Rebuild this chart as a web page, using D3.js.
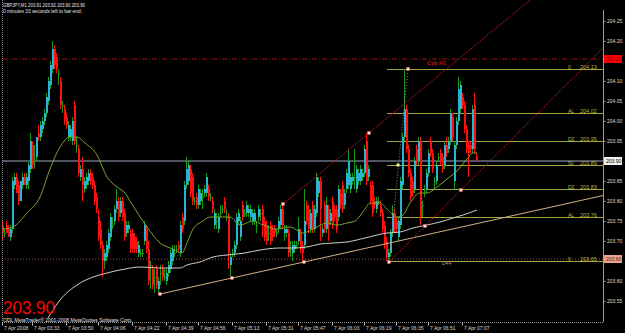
<!DOCTYPE html>
<html>
<head>
<meta charset="utf-8">
<script src="https://cdn.jsdelivr.net/npm/d3@7.9.0/dist/d3.min.js"></script>
<style>
  html, body { margin:0; padding:0; background:#000; overflow:hidden; }
  svg { display:block; }
  text { font-family:"Liberation Sans", Arial, sans-serif; }
</style>
</head>
<body>
<script>
// ─── DATA ────────────────────────────────────────────────────────────────────
// GBPJPY M1 candles, [open, high, low, close], one per minute bar
const ohlc = [
  [203.74,203.75,203.70,203.72],[203.72,203.73,203.71,203.72],[203.74,203.75,203.72,203.72],[203.73,203.74,203.71,203.71],
  [203.71,203.74,203.70,203.73],[203.73,203.86,203.72,203.85],[203.84,203.87,203.83,203.86],[203.86,203.87,203.82,203.82],
  [203.84,203.85,203.79,203.80],[203.80,203.85,203.80,203.85],[203.84,203.87,203.83,203.86],[203.86,203.87,203.84,203.84],
  [203.84,203.87,203.83,203.86],[203.85,203.90,203.83,203.89],[203.88,203.97,203.87,203.95],[203.94,203.95,203.88,203.89],
  [203.90,203.94,203.88,203.90],[203.91,203.96,203.90,203.96],[203.97,203.99,203.95,203.96],[203.96,204.00,203.95,203.99],
  [203.98,204.01,203.97,204.00],[204.00,204.03,203.99,204.02],[204.02,204.07,204.01,204.06],[204.05,204.11,204.04,204.10],
  [204.09,204.15,204.08,204.14],[204.13,204.20,204.12,204.18],[204.18,204.19,204.13,204.14],[204.16,204.17,204.12,204.13],
  [204.12,204.13,204.09,204.12],[204.10,204.11,204.03,204.04],[204.04,204.05,204.02,204.04],[204.03,204.04,203.99,204.00],
  [204.01,204.02,203.98,203.99],[203.96,204.00,203.95,203.99],[203.96,203.99,203.95,203.98],[203.95,204.01,203.94,204.00],
  [204.04,204.05,203.94,203.95],[203.94,203.96,203.92,203.94],[203.93,203.94,203.86,203.87],[203.86,203.89,203.85,203.88],
  [203.88,203.91,203.80,203.84],[203.83,203.86,203.82,203.85],[203.84,203.87,203.83,203.86],[203.85,203.88,203.84,203.87],
  [203.87,203.88,203.84,203.85],[203.86,203.87,203.83,203.84],[203.84,203.85,203.79,203.80],[203.81,203.82,203.77,203.78],
  [203.76,203.78,203.70,203.71],[203.73,203.75,203.68,203.69],[203.69,203.70,203.61,203.65],[203.65,203.68,203.63,203.67],
  [203.66,203.70,203.65,203.69],[203.68,203.73,203.67,203.72],[203.71,203.77,203.70,203.76],[203.74,203.76,203.73,203.74],
  [203.75,203.79,203.74,203.78],[203.78,203.83,203.77,203.80],[203.80,203.81,203.75,203.76],[203.77,203.81,203.76,203.80],
  [203.80,203.81,203.75,203.76],[203.77,203.78,203.70,203.71],[203.72,203.75,203.71,203.74],[203.73,203.75,203.72,203.74],
  [203.72,203.73,203.67,203.68],[203.72,203.73,203.67,203.68],[203.71,203.72,203.67,203.68],[203.70,203.71,203.67,203.68],
  [203.67,203.70,203.66,203.69],[203.67,203.68,203.66,203.67],[203.67,203.68,203.66,203.67],[203.70,203.75,203.69,203.74],
  [203.73,203.74,203.67,203.68],[203.68,203.70,203.59,203.60],[203.64,203.65,203.58,203.64],[203.63,203.64,203.58,203.59],
  [203.61,203.63,203.57,203.61],[203.63,203.64,203.58,203.59],[203.58,203.61,203.57,203.60],[203.62,203.64,203.59,203.62],
  [203.63,203.64,203.60,203.61],[203.61,203.63,203.60,203.61],[203.60,203.63,203.59,203.62],[203.62,203.65,203.61,203.64],
  [203.63,203.68,203.62,203.67],[203.65,203.69,203.64,203.68],[203.67,203.69,203.66,203.67],[203.68,203.69,203.67,203.68],
  [203.69,203.70,203.67,203.68],[203.67,203.75,203.66,203.74],[203.76,203.77,203.72,203.73],[203.75,203.85,203.74,203.84],
  [203.84,203.91,203.83,203.88],[203.85,203.90,203.84,203.89],[203.88,203.89,203.81,203.82],[203.86,203.87,203.79,203.80],
  [203.80,203.81,203.79,203.80],[203.81,203.82,203.78,203.79],[203.79,203.84,203.78,203.83],[203.80,203.83,203.79,203.82],
  [203.81,203.83,203.78,203.81],[203.82,203.84,203.81,203.83],[203.82,203.87,203.81,203.86],[203.83,203.84,203.80,203.81],
  [203.81,203.82,203.80,203.81],[203.80,203.81,203.77,203.78],[203.74,203.78,203.73,203.77],[203.75,203.77,203.73,203.75],
  [203.73,203.77,203.72,203.76],[203.77,203.79,203.76,203.77],[203.78,203.79,203.77,203.78],[203.80,203.81,203.77,203.78],
  [203.76,203.78,203.75,203.76],[203.76,203.77,203.63,203.67],[203.64,203.67,203.61,203.66],[203.67,203.68,203.66,203.67],
  [203.67,203.70,203.66,203.69],[203.69,203.77,203.68,203.76],[203.75,203.78,203.74,203.77],[203.71,203.76,203.70,203.75],
  [203.79,203.80,203.75,203.76],[203.77,203.78,203.76,203.77],[203.77,203.80,203.76,203.79],[203.77,203.79,203.76,203.78],
  [203.76,203.79,203.75,203.78],[203.75,203.78,203.74,203.77],[203.75,203.78,203.74,203.77],[203.74,203.75,203.72,203.74],
  [203.76,203.79,203.75,203.78],[203.77,203.78,203.75,203.77],[203.78,203.79,203.71,203.74],[203.75,203.76,203.70,203.71],
  [203.74,203.75,203.69,203.70],[203.72,203.74,203.70,203.72],[203.74,203.75,203.69,203.70],[203.73,203.74,203.70,203.71],
  [203.73,203.74,203.71,203.72],[203.72,203.73,203.71,203.72],[203.73,203.76,203.72,203.75],[203.74,203.79,203.73,203.78],
  [203.78,203.79,203.73,203.74],[203.72,203.74,203.70,203.73],[203.72,203.74,203.71,203.73],[203.72,203.73,203.66,203.67],
  [203.68,203.70,203.66,203.68],[203.67,203.70,203.65,203.69],[203.68,203.70,203.67,203.69],[203.69,203.70,203.68,203.69],
  [203.70,203.76,203.69,203.73],[203.72,203.73,203.67,203.68],[203.69,203.70,203.65,203.67],[203.69,203.83,203.68,203.75],
  [203.79,203.80,203.74,203.75],[203.78,203.79,203.72,203.73],[203.73,203.78,203.72,203.77],[203.79,203.80,203.72,203.73],
  [203.73,203.79,203.72,203.78],[203.77,203.87,203.76,203.86],[203.82,203.86,203.81,203.85],[203.85,203.86,203.70,203.78],
  [203.72,203.74,203.71,203.73],[203.79,203.80,203.72,203.73],[203.73,203.81,203.72,203.79],[203.78,203.79,203.70,203.74],
  [203.75,203.78,203.74,203.77],[203.80,203.81,203.73,203.74],[203.78,203.79,203.75,203.76],[203.78,203.79,203.72,203.73],
  [203.76,203.84,203.75,203.83],[203.82,203.83,203.78,203.79],[203.84,203.85,203.77,203.78],[203.79,203.83,203.78,203.82],
  [203.83,203.88,203.82,203.87],[203.84,203.93,203.83,203.90],[203.83,203.87,203.82,203.86],[203.85,203.87,203.84,203.86],
  [203.86,203.93,203.83,203.86],[203.83,203.89,203.82,203.88],[203.85,203.88,203.84,203.87],[203.85,203.89,203.84,203.88],
  [203.86,203.88,203.85,203.87],[203.87,203.94,203.86,203.93],[203.95,203.97,203.84,203.85],[203.86,203.89,203.85,203.88],
  [203.84,203.85,203.79,203.80],[203.84,203.85,203.76,203.77],[203.80,203.81,203.78,203.79],[203.78,203.81,203.77,203.80],
  [203.80,203.81,203.79,203.80],[203.79,203.80,203.76,203.77],[203.77,203.78,203.72,203.73],[203.74,203.75,203.68,203.69],
  [203.70,203.71,203.65,203.66],[203.66,203.68,203.65,203.67],[203.67,203.73,203.66,203.72],[203.72,203.79,203.71,203.77],
  [203.77,203.78,203.72,203.73],[203.75,203.76,203.72,203.73],[203.71,203.76,203.70,203.75],[203.74,203.86,203.73,203.85],
  [203.84,203.97,203.83,203.96],[203.96,204.13,203.95,204.03],[204.03,204.04,203.92,203.93],[203.93,203.94,203.86,203.87],
  [203.87,203.88,203.80,203.81],[203.85,203.86,203.81,203.82],[203.83,203.91,203.82,203.90],[203.93,203.94,203.89,203.90],
  [203.90,203.96,203.89,203.95],[203.95,203.96,203.74,203.76],[203.79,203.80,203.76,203.79],[203.83,203.84,203.81,203.83],
  [203.83,203.88,203.82,203.87],[203.87,203.93,203.86,203.92],[203.95,203.96,203.91,203.92],[203.92,203.93,203.87,203.88],
  [203.85,203.86,203.83,203.85],[203.85,203.90,203.84,203.89],[203.91,203.92,203.90,203.91],[203.92,203.93,203.89,203.90],
  [203.91,203.92,203.87,203.88],[203.89,203.95,203.88,203.94],[203.94,203.96,203.91,203.92],[203.93,203.96,203.92,203.95],
  [203.95,204.03,203.94,204.02],[204.01,204.02,203.95,203.96],[203.85,203.95,203.83,203.94],[203.94,204.01,203.93,204.00],
  [204.00,204.11,203.99,204.08],[204.03,204.10,204.02,204.09],[204.06,204.07,204.03,204.04],[204.04,204.05,203.97,203.98],
  [203.98,203.99,203.92,203.93],[203.94,203.95,203.86,203.92],[203.94,203.95,203.92,203.93],[203.93,204.04,203.92,204.03],
  [204.04,204.07,203.92,203.93],[203.91,203.92,203.90,203.90]
];

// moving averages, read as [bar index, price] knots
const fastMA = [
  [0,203.73],[5,203.735],[12,203.77],[18.5,203.81],[23.5,203.88],[28.5,203.935],[33.5,203.96],[37,203.96],
  [41,203.945],[47,203.915],[52,203.86],[57,203.835],[61,203.82],[63.5,203.80],[72,203.735],[78.5,203.695],
  [85,203.68],[89.5,203.67],[92,203.695],[95,203.73],[100,203.75],[103.5,203.76],[108.5,203.76],[113.5,203.76],
  [118.5,203.74],[125,203.75],[130,203.74],[137,203.73],[143.5,203.735],[150,203.72],[155,203.73],[162,203.745],
  [167,203.74],[172,203.745],[176,203.75],[181,203.78],[183.5,203.795],[188.5,203.795],[192,203.78],[197,203.76],
  [200,203.765],[203.5,203.795],[208.5,203.82],[212,203.82],[217,203.835],[222,203.855],[227,203.875],[232,203.905],
  [235,203.92],[237,203.92]
];
const slowMA = [
  [22.5,203.5075],[28.5,203.5525],[37,203.59],[45,203.61],[52,203.62],[61,203.63],[68.5,203.635],[78.5,203.6325],
  [88.5,203.6325],[92,203.64],[98.5,203.6475],[105,203.66],[112,203.665],[121,203.67],[128.5,203.6775],[138.5,203.6825],
  [145,203.6825],[152,203.685],[158.5,203.6925],[165,203.695],[172,203.6975],[181,203.7075],[192,203.72],[198.5,203.7225],
  [205,203.7325],[212,203.74],[218.5,203.7475],[225,203.7575],[230,203.765],[237,203.7775]
];

// drawn objects
const tanTrend   = [[78.5,203.5675],[150.5,203.6475]];
const upperRed   = [[140,203.7925],[183,203.97]];
const lowerRed   = [[193,203.6475],[229,203.8275]];
const fibAnchors = [[193,203.6475],[202.5,204.13]];
const fibStart   = 192;
const fibLevels  = [204.13,204.02,203.95,203.89,203.83,203.76,203.65];
const fibNames   = ['0','AL','DZ','50','DZ','AL','0'];
const pinkDots   = [[78.5,203.5675],[114.5,203.6075],[150.5,203.6475],[140,203.7925],[183,203.97],
                    [193,203.6475],[202.5,204.13],[211,203.7375],[229,203.8275]];
const fibMidDot  = [197.5,203.89];

// horizontal price lines
const redLevel    = 204.155;
const bidPrice    = 203.90;
const salmonLevel = 203.655;

// axes
const axisPrices = [204.25,204.20,204.10,204.05,204.00,203.95,203.85,203.80,203.75,203.70,203.60,203.55];
const timeIdx    = [0,15,32,48,65,82,98,115,132,148,165,181,197,213,230];
const timeLabels = ['7 Apr 2008','7 Apr 03:33','7 Apr 03:50','7 Apr 04:06','7 Apr 04:22','7 Apr 04:39',
                    '7 Apr 04:56','7 Apr 05:13','7 Apr 05:31','7 Apr 05:47','7 Apr 06:03','7 Apr 06:19',
                    '7 Apr 06:35','7 Apr 06:51','7 Apr 07:07'];

// ─── SETUP ───────────────────────────────────────────────────────────────────
const W = 625, H = 333;
const L = 2, R = 603, B = 322;

const svg = d3.select('body').append('svg')
  .attr('width', W).attr('height', H)
  .style('background', '#000');

const x = d3.scaleLinear().domain([0, 237]).range([3, 477]);
const y = d3.scaleLinear().domain([203.55, 204.25]).range([301, 21]);

svg.append('clipPath').attr('id', 'clip')
  .append('rect').attr('x', L).attr('y', 0).attr('width', R - L).attr('height', B);

const plot = svg.append('g').attr('clip-path', 'url(#clip)');

// horizontal lines
plot.append('line')
  .attr('x1', L).attr('x2', R).attr('y1', y(redLevel)).attr('y2', y(redLevel))
  .attr('stroke', '#a01010').attr('stroke-dasharray', '5,2,1,2');
plot.append('line')
  .attr('x1', L).attr('x2', R).attr('y1', y(bidPrice)).attr('y2', y(bidPrice))
  .attr('stroke', '#6a7280').attr('stroke-width', 1.3);
plot.append('line')
  .attr('x1', L).attr('x2', R).attr('y1', y(salmonLevel)).attr('y2', y(salmonLevel))
  .attr('stroke', '#a85a44').attr('stroke-dasharray', '1,2');

// fibonacci levels
fibLevels.forEach(p => {
  plot.append('line')
    .attr('x1', x(fibStart)).attr('x2', R)
    .attr('y1', Math.round(y(p)) + 0.5).attr('y2', Math.round(y(p)) + 0.5)
    .attr('stroke', '#a6a638');
});

// ─── CANDLES ────────────────────────────────────────────────────────────────
const cUp = '#2ab4d4', cDn = '#ff1010', cWickUp = '#1a9a1a';
const candles = plot.append('g');
ohlc.forEach((d, i) => {
  const [o, h, l, c] = d;
  const up = c >= o;
  const x0 = Math.round(x(i)) - 1;
  const doji = o === c;
  candles.append('line')
    .attr('x1', x0 + 0.5).attr('x2', x0 + 0.5)
    .attr('y1', y(h)).attr('y2', y(l))
    .attr('stroke', up ? cWickUp : cDn);
  const top = y(Math.max(o, c)), bot = y(Math.min(o, c));
  candles.append('rect')
    .attr('x', x0).attr('width', 2)
    .attr('y', top).attr('height', Math.max(1, bot - top))
    .attr('fill', doji ? cWickUp : (up ? cUp : cDn));
});

// ─── MOVING AVERAGES ────────────────────────────────────────────────────────
const maLine = d3.line().x(d => x(d[0])).y(d => y(d[1])).curve(d3.curveMonotoneX);
plot.append('path').datum(slowMA).attr('d', maLine)
  .attr('fill', 'none').attr('stroke', '#cfcfc6').attr('stroke-width', 1);
plot.append('path').datum(fastMA).attr('d', maLine)
  .attr('fill', 'none').attr('stroke', '#78a82a').attr('stroke-width', 1);

// ─── TRENDLINES ─────────────────────────────────────────────────────────────
function ray(pts, toIdx) {
  const [[i0, p0], [i1, p1]] = pts;
  const k = (p1 - p0) / (i1 - i0);
  return [x(i0), y(p0), x(toIdx), y(p0 + k * (toIdx - i0))];
}
function drawRay(pts, color, dash) {
  const [x1, y1, x2, y2] = ray(pts, 300);
  plot.append('line').attr('x1', x1).attr('y1', y1).attr('x2', x2).attr('y2', y2)
    .attr('stroke', color).attr('stroke-dasharray', dash || null);
}
drawRay(tanTrend, '#d2b184');
drawRay(upperRed, '#b01818', '2,1');
drawRay(lowerRed, '#b01818', '2,1');

plot.append('line')
  .attr('x1', x(fibAnchors[0][0])).attr('y1', y(fibAnchors[0][1]))
  .attr('x2', x(fibAnchors[1][0])).attr('y2', y(fibAnchors[1][1]))
  .attr('stroke', '#a08888').attr('stroke-dasharray', '1,2');

// swing markers
plot.selectAll('rect.dot').data(pinkDots).join('rect')
  .attr('class', 'dot')
  .attr('x', d => x(d[0]) - 1.5).attr('y', d => y(d[1]) - 1.5)
  .attr('width', 3).attr('height', 3)
  .attr('fill', '#ffe4e4').attr('stroke', '#e05050').attr('stroke-width', 0.5);
plot.append('rect')
  .attr('x', x(fibMidDot[0]) - 1.5).attr('y', y(fibMidDot[1]) - 1.5)
  .attr('width', 3).attr('height', 3).attr('fill', '#f0f0a0');

// fib labels
fibLevels.forEach((p, i) => {
  const by = Math.round(y(p)) - 0.5;
  svg.append('text').attr('x', 568).attr('y', by)
    .attr('font-size', 5).attr('fill', '#b0b040').text(fibNames[i]);
  svg.append('text').attr('x', 580).attr('y', by)
    .attr('font-size', 5.5).attr('fill', '#b0b040').text(p.toFixed(2));
});
svg.append('text').attr('x', 427).attr('y', 65)
  .attr('font-size', 5.5).attr('font-weight', 'bold').attr('fill', '#c01818').text('Cyb H1');
svg.append('text').attr('x', 442).attr('y', 265)
  .attr('font-size', 5).attr('fill', '#d08a70').text('D44');

// ─── FRAME & AXES ───────────────────────────────────────────────────────────
svg.append('line').attr('x1', L + 0.5).attr('x2', L + 0.5).attr('y1', 0).attr('y2', B)
  .attr('stroke', '#8a8a8a').attr('stroke-dasharray', '1,1');
svg.append('line').attr('x1', L).attr('x2', R).attr('y1', B + 0.5).attr('y2', B + 0.5)
  .attr('stroke', '#8a8a8a').attr('stroke-dasharray', '1,1');
svg.append('line').attr('x1', R + 0.5).attr('x2', R + 0.5).attr('y1', 10).attr('y2', B)
  .attr('stroke', '#9a9a9a');

const yAxis = svg.append('g')
  .attr('transform', `translate(${R + 0.5},0)`)
  .call(d3.axisRight(y).tickValues(axisPrices).tickSize(2).tickPadding(1.5).tickFormat(d3.format('.2f')));
yAxis.select('.domain').remove();
yAxis.selectAll('line').attr('stroke', '#9a9a9a');
yAxis.selectAll('text').attr('fill', '#dcdcdc').attr('font-size', 5)
  .attr('font-family', '"Liberation Sans", Arial, sans-serif');

// price boxes on right axis
function priceBox(p, txt, bg, fg) {
  const cy = y(p);
  svg.append('rect').attr('x', 604).attr('y', cy - 4).attr('width', 18).attr('height', 8).attr('fill', bg);
  svg.append('text').attr('x', 606).attr('y', cy + 1.8).attr('font-size', 5).attr('fill', fg).text(txt);
}
priceBox(redLevel, '204.15', '#ff0000', '#700000');
priceBox(bidPrice, '203.90', '#f0f0f0', '#000');
priceBox(salmonLevel, '203.66', '#e8a48c', '#5a2010');

const xAxis = svg.append('g')
  .attr('transform', `translate(0,${B + 0.5})`)
  .call(d3.axisBottom(x).tickValues(timeIdx).tickSize(3).tickPadding(1)
    .tickFormat((d, i) => timeLabels[i]));
xAxis.select('.domain').remove();
xAxis.selectAll('.tick line').attr('stroke', '#bdbdbd').attr('transform', 'translate(-1,0)');
xAxis.selectAll('text').attr('fill', '#dcdcdc').attr('font-size', 5).attr('text-anchor', 'start')
  .attr('font-family', '"Liberation Sans", Arial, sans-serif').attr('dx', 0.5);

// ─── TEXTS ──────────────────────────────────────────────────────────────────
svg.append('text').attr('x', 3).attr('y', 7).attr('font-size', 5).attr('fill', '#e6e6e6')
  .attr('textLength', 82).attr('lengthAdjust', 'spacingAndGlyphs')
  .text('GBPJPY,M1  203.91 203.92 203.90 203.90');
svg.append('text').attr('x', 3).attr('y', 13).attr('font-size', 5).attr('fill', '#e6e6e6')
  .attr('textLength', 79).attr('lengthAdjust', 'spacingAndGlyphs')
  .text('0 minutes 33 seconds left to bar end.');
svg.append('text').attr('x', 3).attr('y', 313.5).attr('font-size', 18).attr('fill', '#ff0000')
  .attr('textLength', 52).attr('lengthAdjust', 'spacingAndGlyphs')
  .text('203.90');
svg.append('text').attr('x', 3).attr('y', 322).attr('font-size', 5).attr('fill', '#e6e6e6')
  .text('ODL MetaTrader® 2001-2008 MetaQuotes Software Corp.');
</script>
</body>
</html>
